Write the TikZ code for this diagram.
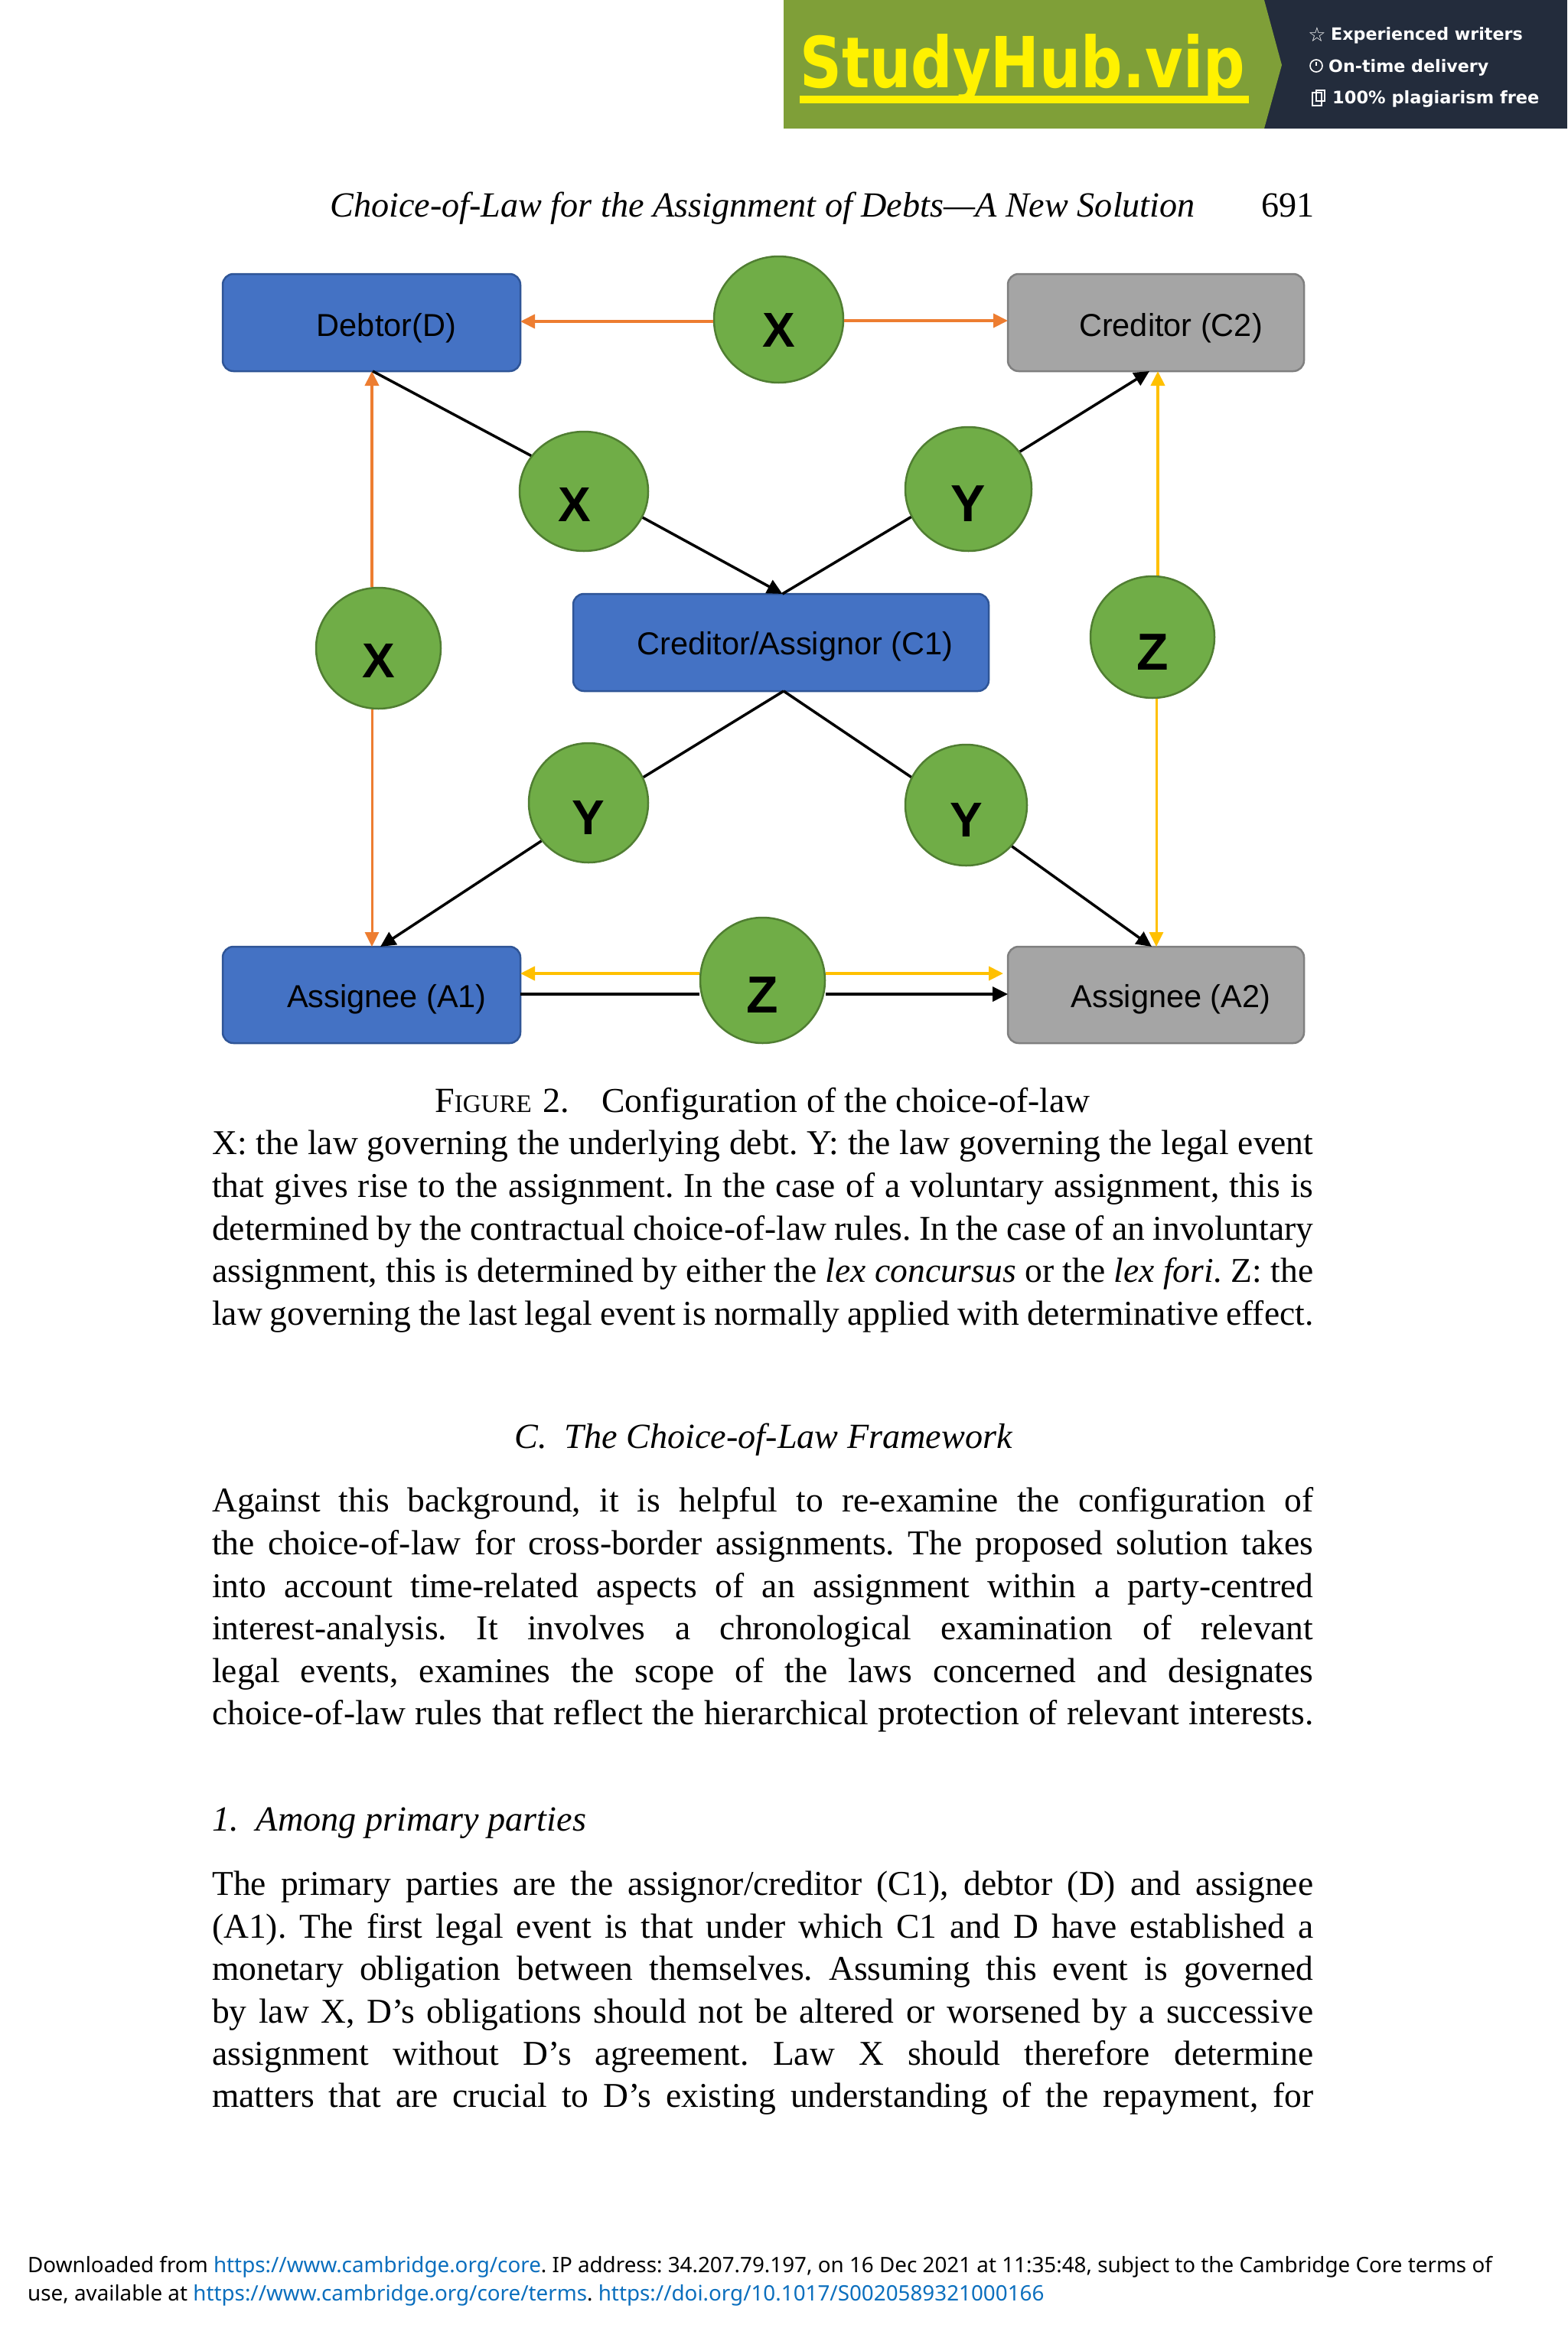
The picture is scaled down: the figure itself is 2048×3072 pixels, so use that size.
\documentclass[tikz,border=0pt]{standalone}
\usepackage{fontspec}
\usetikzlibrary{arrows.meta,shapes.geometric}
\setmainfont{Liberation Serif}
\newfontfamily\arialf{Liberation Sans}
\newfontfamily\notof{Noto Sans}
\newfontfamily\dejaf{DejaVu Sans}
\definecolor{bluefill}{HTML}{4472C4}
\definecolor{blueline}{HTML}{2F5597}
\definecolor{greyfill}{HTML}{A5A5A5}
\definecolor{greyline}{HTML}{7F7F7F}
\definecolor{greenfill}{HTML}{70AD47}
\definecolor{greenline}{HTML}{507E32}
\definecolor{orangeline}{HTML}{ED7D31}
\definecolor{yellowline}{HTML}{FFC000}
\definecolor{bannergreen}{HTML}{7F9F38}
\definecolor{bannerdark}{HTML}{232C3C}
\definecolor{linkblue}{HTML}{0B6FBE}
\newcommand{\placed}[3]{\makebox[0pt][c]{\kern#1pt\kern#1pt\raisebox{-#2pt}[0pt][0pt]{#3}}}
\newcommand{\bodyfont}{\fontsize{45.5}{55}\selectfont}
\newcommand{\headfont}{\fontsize{46.2}{55}\selectfont}
\newcommand{\bigletter}{\fontsize{68}{68}\selectfont}
\newcommand{\jline}[3]{\node[textline] (#1) at (277,#2) {\makebox[1439pt][s]{#3}};}
\frenchspacing
\tikzset{
 x=1pt,y=-1pt,
 party/.style={rectangle,rounded corners=14pt,line width=2.5pt,inner sep=0pt,font=\arialf\fontsize{41.5}{42}\selectfont},
 bluebox/.style={party,fill=bluefill,draw=blueline},
 greybox/.style={party,fill=greyfill,draw=greyline},
 lawnode/.style={ellipse,fill=greenfill,draw=greenline,line width=2.5pt,inner sep=0pt,font=\arialf\bfseries\fontsize{64}{64}\selectfont},
 blackline/.style={draw=black,line width=3.5pt},
 blackarrow/.style={blackline,-{Triangle[length=20pt,width=19pt]}},
 orangearrow/.style={draw=orangeline,line width=4pt,-{Triangle[length=19pt,width=18pt]}},
 yellowarrow/.style={draw=yellowline,line width=4pt,-{Triangle[length=19pt,width=18pt]}},
 thinner/.style={line width=3pt},
 textline/.style={anchor=base west,inner sep=0pt,font=\bodyfont},
 headline/.style={anchor=base west,inner sep=0pt,font=\headfont},
 footline/.style={anchor=base west,inner sep=0pt,font=\notof\fontsize{27.8}{34}\selectfont},
 perk/.style={anchor=base west,inner sep=0pt,text=white,font=\dejaf\bfseries\fontsize{22.2}{26}\selectfont},
}
\begin{document}
\begin{tikzpicture}
\useasboundingbox (0,0) rectangle (2048,3072);
\fill[white] (0,0) rectangle (2048,3072);
% banner
\fill[bannerdark] (1640,0) rectangle (2048,168);
\fill[bannergreen] (1024,0) -- (1652,0) -- (1675,85) -- (1652,168) -- (1024,168) -- cycle;
\node[inner sep=0pt,anchor=base west,text=yellow] (brand) at (1045,115) {\scalebox{0.828}[1]{\dejaf\bfseries\fontsize{92}{92}\selectfont StudyHub.vip}};
\fill[yellow] (1045,125) rectangle (1632,135);
\node[perk] (p1) at (1739,53) {Experienced writers};
\node[perk] (p2) at (1736,95) {On-time delivery};
\node[perk] (p3) at (1741,136) {\fontsize{22.5}{26}\selectfont 100\% plagiarism free};
\node[inner sep=0pt,text=white,font=\dejaf\fontsize{26}{26}\selectfont] (star) at (1721,45) {☆};
\draw[white,line width=1.6pt] (1720,86) circle (8);
\draw[white,line width=1.6pt] (1720,86) -- (1720,81);
\draw[white,line width=1.6pt] (1715,121) rectangle (1727,138);
\draw[white,line width=1.6pt] (1720,118) rectangle (1731,132);
% header
\node[headline] (head) at (431,283) {\itshape Choice-of-Law for the Assignment of Debts—A New Solution};
\node[headline] (page) at (1648,283) {691};
% boxes
\node[bluebox,minimum width=389pt,minimum height=127pt] (D) at (485.5,421.5) {\placed{19.5}{17.5}{Debtor(D)}};
\node[greybox,minimum width=387pt,minimum height=127pt] (C2) at (1510.5,421.5) {\placed{19.5}{17.5}{Creditor (C2)}};
\node[bluebox,minimum width=543pt,minimum height=127pt] (C1) at (1020.5,839.5) {\placed{18.5}{16}{Creditor/Assignor (C1)}};
\node[bluebox,minimum width=389pt,minimum height=126pt] (A1) at (485.5,1300) {\placed{20}{16}{Assignee (A1)}};
\node[greybox,minimum width=387pt,minimum height=126pt] (A2) at (1510.5,1300) {\placed{19.5}{16}{Assignee (A2)}};
% law circles
\node[lawnode,minimum width=169pt,minimum height=165pt] (xt) at (1017.5,417.5) {\placed{0.5}{35.5}{X}};
\node[lawnode,minimum width=168pt,minimum height=156pt] (xm) at (763,642) {\placed{-12}{39}{X}};
\node[lawnode,minimum width=163pt,minimum height=158pt] (xl) at (494.5,847) {\placed{0}{38}{X}};
\node[lawnode,minimum width=165pt,minimum height=162pt] (yt) at (1265.5,639) {\placed{0}{42}{\bigletter Y}};
\node[lawnode,minimum width=162pt,minimum height=159pt] (zr) at (1506,832.5) {\placed{0}{42.5}{\bigletter Z}};
\node[lawnode,minimum width=156pt,minimum height=156pt] (yl) at (769,1049) {\placed{0}{41}{Y}};
\node[lawnode,minimum width=159pt,minimum height=158pt] (yr) at (1262.5,1052) {\placed{0}{41}{Y}};
\node[lawnode,minimum width=163pt,minimum height=164pt] (zb) at (996.5,1281) {\placed{0}{42}{\bigletter Z}};
% connection points on the box edges
\coordinate (dOrange) at (486,485);
\coordinate (dBlack) at (487,485);
\coordinate (dSide) at (680,420);
\coordinate (c2Side) at (1317,419);
\coordinate (c1Top) at (1022.5,776);
\coordinate (c1Bot) at (1024,903);
\coordinate (c2Black) at (1502,485);
\coordinate (c2Yellow) at (1513,485);
\coordinate (a1Orange) at (486,1237);
\coordinate (a1Black) at (497,1237);
\coordinate (a2Black) at (1505,1237);
\coordinate (a2Yellow) at (1511,1237);
\coordinate (a1Y) at (680,1272);
\coordinate (a2Y) at (1311,1272);
\coordinate (a1K) at (680,1299);
\coordinate (a2K) at (1317,1299);
% connectors
\draw[orangearrow] (xt.west |- dSide) -- (dSide);
\draw[orangearrow] (xt.east |- c2Side) -- (c2Side);
\draw[orangearrow] (dOrange |- xl.north) -- (dOrange);
\draw[orangearrow,thinner] (a1Orange |- xl.south) -- (a1Orange);
\draw[blackline] (dBlack) -- (xm.146.5);
\draw[blackarrow] (xm.-24.1) -- (c1Top);
\draw[blackline] (c1Top) -- (yt.206.2);
\draw[blackarrow] (yt.36.3) -- (c2Black);
\draw[blackline] (c1Bot) -- (yl.25.9);
\draw[blackarrow] (yl.219.3) -- (a1Black);
\draw[blackline] (c1Bot) -- (yr.153.9);
\draw[blackarrow] (yr.-42.3) -- (a2Black);
\draw[yellowarrow] (c2Yellow |- zr.north) -- (c2Yellow);
\draw[yellowarrow,thinner] (a2Yellow |- zr.south) -- (a2Yellow);
\draw[yellowarrow] (zb.west |- a1Y) -- (a1Y);
\draw[yellowarrow] (zb.east |- a2Y) -- (a2Y);
\draw[blackline] (a1K) -- (zb.west |- a1K);
\draw[blackarrow] (zb.east |- a2K) -- (a2K);
% caption
\node[headline] (cap) at (568,1453) {F{\fontsize{33}{33}\selectfont IGURE}\hspace{15pt}2.\hspace{42pt}{\fontsize{45.7}{55}\selectfont Configuration of the choice-of-law}};
\jline{t1}{1508}{X: the law governing the underlying debt. Y: the law governing the legal event}
\jline{t2}{1564}{that gives rise to the assignment. In the case of a voluntary assignment, this is}
\jline{t3}{1620}{determined by the contractual choice-of-law rules. In the case of an involuntary}
\jline{t4}{1675}{assignment, this is determined by either the \emph{lex concursus} or the \emph{lex fori}. Z: the}
\jline{t5}{1731}{law governing the last legal event is normally applied with determinative effect.}
\node[headline] (hc) at (672,1892) {\itshape C.\ \ The Choice-of-Law Framework};
\jline{u1}{1975}{Against this background, it is helpful to re-examine the configuration of}
\jline{u2}{2031}{the choice-of-law for cross-border assignments. The proposed solution takes}
\jline{u3}{2087}{into account time-related aspects of an assignment within a party-centred}
\jline{u4}{2142}{interest-analysis. It involves a chronological examination of relevant}
\jline{u5}{2198}{legal events, examines the scope of the laws concerned and designates}
\jline{u6}{2253}{choice-of-law rules that reflect the hierarchical protection of relevant interests.}
\node[headline] (h1) at (277,2392) {\itshape 1.\ \ Among primary parties};
\jline{v1}{2476}{The primary parties are the assignor/creditor (C1), debtor (D) and assignee}
\jline{v2}{2532}{(A1). The first legal event is that under which C1 and D have established a}
\jline{v3}{2587}{monetary obligation between themselves. Assuming this event is governed}
\jline{v4}{2643}{by law X, D’s obligations should not be altered or worsened by a successive}
\jline{v5}{2698}{assignment without D’s agreement. Law X should therefore determine}
\jline{v6}{2753}{matters that are crucial to D’s existing understanding of the repayment, for}
% footer
\node[footline] (f1) at (36,2969) {Downloaded from \textcolor{linkblue}{https://www.cambridge.org/core}. IP address: 34.207.79.197, on 16 Dec 2021 at 11:35:48, subject to the Cambridge Core terms of};
\node[footline] (f2) at (36,3006) {use, available at \textcolor{linkblue}{https://www.cambridge.org/core/terms}. \textcolor{linkblue}{https://doi.org/10.1017/S0020589321000166}};
\end{tikzpicture}
\end{document}
